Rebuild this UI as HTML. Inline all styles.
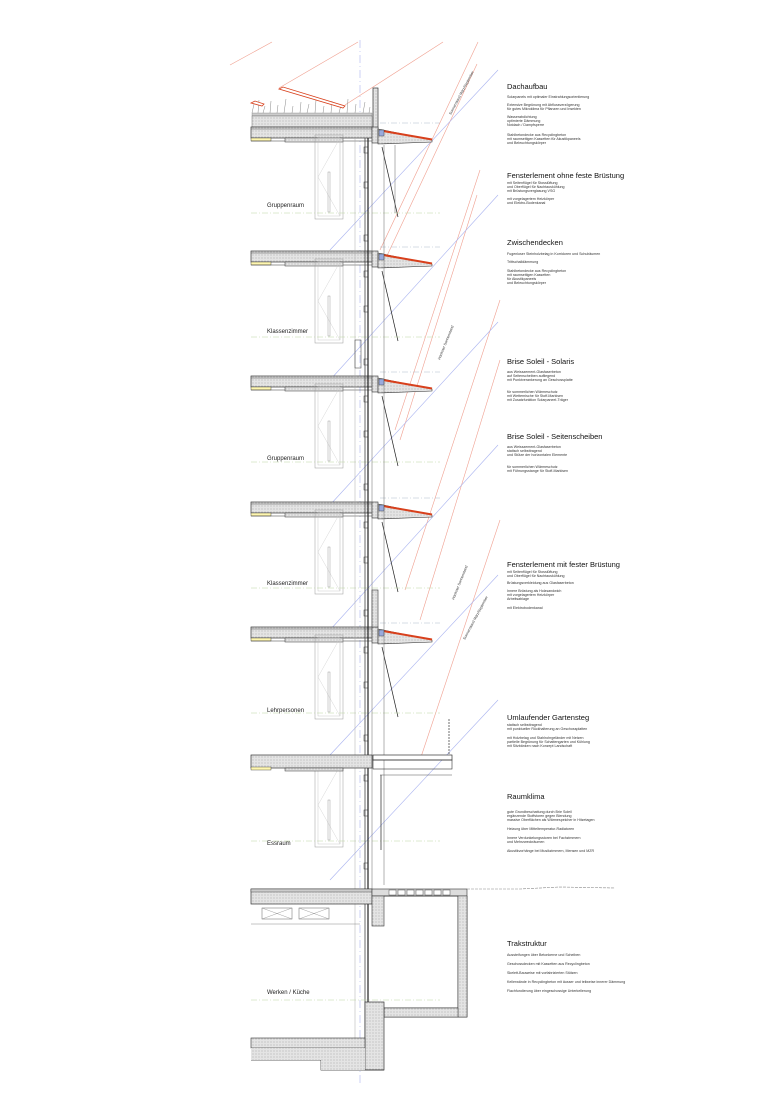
<!DOCTYPE html>
<html><head><meta charset="utf-8"><style>
html,body{margin:0;padding:0;background:#fff;}
svg{display:block;font-family:"Liberation Sans",sans-serif;}
.h{font-size:7.5px;fill:#111;}
.s{font-size:3.6px;fill:#333;}
.r{font-size:6px;fill:#222;}
</style></head><body>
<svg width="780" height="1103" viewBox="0 0 780 1103" xmlns="http://www.w3.org/2000/svg">
<defs>
<pattern id="ht" width="3" height="3" patternUnits="userSpaceOnUse"><rect width="3" height="3" fill="#e4e4e4"/><circle cx="1" cy="1" r="0.5" fill="#999"/></pattern>
<g id="floor">
 <rect x="251" y="0" width="121" height="11" fill="url(#ht)" stroke="#333" stroke-width="0.7"/>
 <line x1="251" y1="2" x2="372" y2="2" stroke="#555" stroke-width="0.5"/>
 <rect x="251" y="11" width="20" height="3" fill="#fff7b0" stroke="#333" stroke-width="0.4"/>
 <rect x="285" y="11" width="58" height="4" fill="url(#ht)" stroke="#333" stroke-width="0.5"/>
 <line x1="251" y1="14" x2="285" y2="14" stroke="#333" stroke-width="0.5"/>
 <line x1="343" y1="14" x2="372" y2="14" stroke="#333" stroke-width="0.5"/>
 <rect x="372" y="0" width="6" height="16" fill="url(#ht)" stroke="#333" stroke-width="0.6"/>
 <polygon points="378,2 432,13 432,15 378,17" fill="url(#ht)" stroke="#333" stroke-width="0.6"/>
 <line x1="383" y1="4" x2="432" y2="12.5" stroke="#d8401c" stroke-width="2"/>
 <rect x="379" y="3" width="5" height="6" fill="#9ad" stroke="#333" stroke-width="0.4"/>
 <line x1="382" y1="20" x2="398" y2="90" stroke="#222" stroke-width="0.7"/>
 <line x1="380" y1="-4" x2="440" y2="-4" stroke="#9ab" stroke-width="0.4" stroke-dasharray="6,2,1,2"/>
</g>
<g id="win">
 <rect x="315" y="8" width="28" height="84" fill="none" stroke="#999" stroke-width="0.5"/>
 <rect x="318" y="11" width="22" height="78" fill="none" stroke="#bbb" stroke-width="0.4"/>
 <polyline points="318,50 340,11 340,89 318,50" fill="none" stroke="#ccc" stroke-width="0.4"/>
 <rect x="328" y="45" width="2" height="40" fill="none" stroke="#888" stroke-width="0.4"/>
 <line x1="251" y1="86" x2="440" y2="86" stroke="#bdd6a0" stroke-width="0.5" stroke-dasharray="6,2,1,2"/>
 <rect x="364" y="20" width="4" height="6" fill="#fff" stroke="#333" stroke-width="0.5"/>
 <rect x="364" y="55" width="4" height="6" fill="#fff" stroke="#333" stroke-width="0.5"/>
 <rect x="364" y="108" width="4" height="6" fill="#fff" stroke="#333" stroke-width="0.5"/>
</g>
</defs>
<rect width="780" height="1103" fill="#fff"/>

<!-- sun lines -->
<g stroke="#f0a090" stroke-width="0.6" fill="none">
 <line x1="230" y1="65" x2="272" y2="42"/>
 <line x1="279" y1="88" x2="358" y2="42"/>
 <line x1="345" y1="105" x2="443" y2="42"/>
 <line x1="380" y1="250" x2="478" y2="42"/>
 <line x1="385" y1="260" x2="477" y2="64"/>
 <line x1="395" y1="430" x2="480" y2="170"/>
 <line x1="400" y1="440" x2="477" y2="195"/>
 <line x1="405" y1="590" x2="500" y2="300"/>
 <line x1="420" y1="620" x2="500" y2="360"/>
 <line x1="420" y1="760" x2="500" y2="520"/>
</g>
<g stroke="#aab4f0" stroke-width="0.6" fill="none">
 <line x1="330" y1="250" x2="498" y2="70"/>
 <line x1="330" y1="380" x2="498" y2="195"/>
 <line x1="330" y1="505" x2="498" y2="322"/>
 <line x1="330" y1="630" x2="498" y2="445"/>
 <line x1="330" y1="755" x2="498" y2="575"/>
 <line x1="330" y1="880" x2="498" y2="700"/>
 <line x1="360" y1="40" x2="360" y2="1085" stroke-dasharray="8,3,1,3"/>
</g>
<text class="s" transform="translate(451,115) rotate(-62)" font-size="5">Sonnenstand März/September</text>
<text class="s" transform="translate(440,360) rotate(-68)" font-size="5">Höchster Sonnenstand</text>
<text class="s" transform="translate(454,600) rotate(-68)" font-size="5">Höchster Sonnenstand</text>
<text class="s" transform="translate(465,640) rotate(-62)" font-size="5">Sonnenstand März/September</text>

<!-- roof -->
<rect x="252" y="113" width="120" height="3" fill="#ccc" stroke="#666" stroke-width="0.3"/>
<g stroke="#888" stroke-width="0.5">
<path d="M252 113 L254 104 M258 113 L259 100 M263 113 L265 106 M270 113 L271 101 M277 113 L278 105 M284 113 L286 99 M292 113 L293 106 M300 113 L301 102 M307 113 L309 104 M315 113 L316 100 M323 113 L324 106 M331 113 L332 101 M339 113 L341 105 M347 113 L348 99 M355 113 L356 104 M363 113 L365 102 M369 113 L370 107"/>
</g>
<rect x="252" y="116" width="120" height="11" fill="url(#ht)" stroke="#555" stroke-width="0.4"/>
<rect x="373" y="88" width="5" height="50" fill="url(#ht)" stroke="#333" stroke-width="0.7"/>
<polygon points="279,89 283,87 345,106 343,108" fill="#fff" stroke="#d8401c" stroke-width="0.8"/>
<polygon points="251,103 255,101 264,104 262,106" fill="#fff" stroke="#d8401c" stroke-width="0.8"/>

<use href="#floor" y="127"/>
<use href="#floor" y="251"/>
<use href="#floor" y="376"/>
<use href="#floor" y="502"/>
<use href="#floor" y="627"/>
<use href="#win" y="127"/>
<use href="#win" y="251"/>
<use href="#win" y="376"/>
<use href="#win" y="502"/>
<use href="#win" y="627"/>
<use href="#win" y="755"/>

<!-- facade verticals -->
<g stroke-width="0.8" fill="none">
 <line x1="365" y1="138" x2="365" y2="1040" stroke="#444"/>
 <line x1="368" y1="138" x2="368" y2="1040" stroke="#222" stroke-width="1.2"/>
 <line x1="372" y1="138" x2="372" y2="889" stroke="#666" stroke-width="0.5"/>
 <line x1="355" y1="138" x2="355" y2="1040" stroke="#aaa" stroke-width="0.5"/>
 <line x1="384" y1="145" x2="384" y2="885" stroke="#666" stroke-width="0.5"/>
 <line x1="395" y1="145" x2="395" y2="213" stroke="#666" stroke-width="0.5"/>
</g>
<rect x="372" y="590" width="6" height="37" fill="url(#ht)" stroke="#333" stroke-width="0.6"/>
<rect x="355" y="340" width="6" height="28" fill="none" stroke="#333" stroke-width="0.5"/>

<!-- walkway -->
<rect x="251" y="755" width="121" height="13" fill="url(#ht)" stroke="#333" stroke-width="0.7"/>
<rect x="251" y="767" width="20" height="3" fill="#fff7b0" stroke="#333" stroke-width="0.4"/>
<rect x="285" y="768" width="58" height="3" fill="url(#ht)" stroke="#333" stroke-width="0.5"/>
<rect x="373" y="755" width="79" height="5" fill="#fff" stroke="#333" stroke-width="0.7"/>
<rect x="373" y="760" width="79" height="9" fill="none" stroke="#333" stroke-width="0.6"/>
<line x1="380" y1="775" x2="452" y2="775" stroke="#555" stroke-width="0.5"/>
<line x1="449" y1="719" x2="449" y2="755" stroke="#333" stroke-width="0.7" stroke-dasharray="2,1"/>
<line x1="381" y1="775" x2="381" y2="850" stroke="#222" stroke-width="0.7"/>

<!-- ground -->
<rect x="251" y="889" width="121" height="15" fill="url(#ht)" stroke="#333" stroke-width="0.7"/>
<rect x="251" y="889" width="121" height="3" fill="#ccc" stroke="#333" stroke-width="0.4"/>
<rect x="372" y="889" width="95" height="7" fill="#ddd" stroke="#333" stroke-width="0.6"/>
<g fill="#fff" stroke="#333" stroke-width="0.4">
<rect x="389" y="890" width="7" height="5"/><rect x="398" y="890" width="7" height="5"/><rect x="407" y="890" width="7" height="5"/><rect x="416" y="890" width="7" height="5"/><rect x="425" y="890" width="7" height="5"/><rect x="434" y="890" width="7" height="5"/><rect x="443" y="890" width="7" height="5"/>
</g>
<path d="M467 889 L520 889 L560 887 L615 888" stroke="#888" stroke-width="0.6" fill="none" stroke-dasharray="3,1"/>
<path d="M384 896 L458 896 L458 1008 L384 1008 L384 1017 L467 1017 L467 896" fill="none" stroke="#333" stroke-width="0.7"/>
<rect x="458" y="896" width="9" height="121" fill="url(#ht)" stroke="#333" stroke-width="0.5"/>
<rect x="384" y="1008" width="74" height="9" fill="url(#ht)" stroke="#333" stroke-width="0.5"/>
<rect x="372" y="896" width="12" height="30" fill="url(#ht)" stroke="#333" stroke-width="0.6"/>
<rect x="365" y="1002" width="19" height="68" fill="url(#ht)" stroke="#333" stroke-width="0.7"/>
<rect x="251" y="1038" width="114" height="10" fill="url(#ht)" stroke="#333" stroke-width="0.6"/>
<path d="M251 1060 L321 1060 L321 1070 L384 1070" fill="none" stroke="#333" stroke-width="0.7"/>
<rect x="251" y="1048" width="114" height="12" fill="url(#ht)" stroke="none"/>
<rect x="321" y="1060" width="44" height="10" fill="url(#ht)"/>
<rect x="262" y="908" width="30" height="11" fill="none" stroke="#666" stroke-width="0.5"/>
<path d="M262 908 L292 919 M292 908 L262 919" stroke="#888" stroke-width="0.4"/>
<rect x="299" y="908" width="30" height="11" fill="none" stroke="#666" stroke-width="0.5"/>
<path d="M299 908 L329 919 M329 908 L299 919" stroke="#888" stroke-width="0.4"/>
<line x1="251" y1="924" x2="360" y2="924" stroke="#888" stroke-width="0.5"/>
<line x1="251" y1="1000" x2="440" y2="1000" stroke="#bdd6a0" stroke-width="0.5" stroke-dasharray="6,2,1,2"/>

<!-- room labels -->
<text class="r" x="267" y="207">Gruppenraum</text>
<text class="r" x="267" y="333">Klassenzimmer</text>
<text class="r" x="267" y="460">Gruppenraum</text>
<text class="r" x="267" y="585">Klassenzimmer</text>
<text class="r" x="267" y="712">Lehrpersonen</text>
<text class="r" x="267" y="845">Essraum</text>
<text class="r" x="267" y="994">Werken / Küche</text>

<!-- right text -->
<g>
<text class="h" x="507" y="89">Dachaufbau</text>
<text class="s" x="507" y="98">Solarpanels mit optimaler Einstrahlungsorientierung</text>
<text class="s" x="507" y="106">Extensive Begrünung mit Abflussverzögerung</text>
<text class="s" x="507" y="110">für gutes Mikroklima für Pflanzen und Insekten</text>
<text class="s" x="507" y="118">Wasserabdichtung</text>
<text class="s" x="507" y="122">optimierte Dämmung</text>
<text class="s" x="507" y="126">Notdach / Dampfsperre</text>
<text class="s" x="507" y="136">Stahlbetondecke aus Recyclingbeton</text>
<text class="s" x="507" y="140">mit raumseitigen Kassetten für Akustikpaneels</text>
<text class="s" x="507" y="144">und Beleuchtungskörper</text>

<text class="h" x="507" y="178">Fensterlement ohne feste Brüstung</text>
<text class="s" x="507" y="184">mit Seitenflügel für Stosslüftung</text>
<text class="s" x="507" y="188">und Oberflügel für Nachtauskühlung</text>
<text class="s" x="507" y="192">mit Brüstungsverglasung VSG</text>
<text class="s" x="507" y="200">mit vorgelagertem Heizkörper</text>
<text class="s" x="507" y="204">und Elektro-Bodenkanal</text>

<text class="h" x="507" y="245">Zwischendecken</text>
<text class="s" x="507" y="255">Fugenloser Steinholzbelag in Korridoren und Schulräumen</text>
<text class="s" x="507" y="263">Trittschalldämmung</text>
<text class="s" x="507" y="272">Stahlbetondecke aus Recyclingbeton</text>
<text class="s" x="507" y="276">mit raumseitigen Kassetten</text>
<text class="s" x="507" y="280">für Akustikpaneels</text>
<text class="s" x="507" y="284">und Beleuchtungskörper</text>

<text class="h" x="507" y="364">Brise Soleil - Solaris</text>
<text class="s" x="507" y="373">aus Weisszement-Glasfaserbeton</text>
<text class="s" x="507" y="377">auf Seitenscheiben aufliegend</text>
<text class="s" x="507" y="381">mit Punktverankerung an Geschossplatte</text>
<text class="s" x="507" y="393">für sommerlichen Wärmeschutz</text>
<text class="s" x="507" y="397">mit Wetternische für Stoff-Markisen</text>
<text class="s" x="507" y="401">mit Zusatzfunktion Solarpaneel-Träger</text>

<text class="h" x="507" y="439">Brise Soleil - Seitenscheiben</text>
<text class="s" x="507" y="448">aus Weisszement-Glasfaserbeton</text>
<text class="s" x="507" y="452">statisch selbsttragend</text>
<text class="s" x="507" y="456">und Stütze der horizontalen Elemente</text>
<text class="s" x="507" y="468">für sommerlichen Wärmeschutz</text>
<text class="s" x="507" y="472">mit Führungsstange für Stoff-Markisen</text>

<text class="h" x="507" y="567">Fensterlement mit fester Brüstung</text>
<text class="s" x="507" y="573">mit Seitenflügel für Stosslüftung</text>
<text class="s" x="507" y="577">und Oberflügel für Nachtauskühlung</text>
<text class="s" x="507" y="584">Brüstungsverkleidung aus Glasfaserbeton</text>
<text class="s" x="507" y="592">Innere Brüstung als Holzsandwich</text>
<text class="s" x="507" y="596">mit vorgelagertem Heizkörper</text>
<text class="s" x="507" y="600">Arbeitsablage</text>
<text class="s" x="507" y="609">mit Elektrobodenkanal</text>

<text class="h" x="507" y="720">Umlaufender Gartensteg</text>
<text class="s" x="507" y="726">statisch selbsttragend</text>
<text class="s" x="507" y="730">mit punktueller Rückhalterung an Geschossplatten</text>
<text class="s" x="507" y="739">mit Holzbelag und Stahlrohrgeländer mit Netzen</text>
<text class="s" x="507" y="743">partielle Begrünung für Schattengarten und Kühlung</text>
<text class="s" x="507" y="747">mit Sitzbänken nach Konzept Landschaft</text>

<text class="h" x="507" y="799">Raumklima</text>
<text class="s" x="507" y="813">gute Grundbeschattung durch Brie Soleil</text>
<text class="s" x="507" y="817">ergänzende Stoffstoren gegen Blendung</text>
<text class="s" x="507" y="821">massive Oberflächen als Wärmespeicher in Hitzetagen</text>
<text class="s" x="507" y="830">Heizung über Mitteltemperatur-Radiatoren</text>
<text class="s" x="507" y="839">Innere Verdunkelungsstoren bei Fachzimmern</text>
<text class="s" x="507" y="843">und Mehrzweckräumen</text>
<text class="s" x="507" y="852">Akustikvorhänge bei Musikzimmern, Mensen und MZR</text>

<text class="h" x="507" y="946">Trakstruktur</text>
<text class="s" x="507" y="956">Aussteifungen über Betonkerne und Scheiben</text>
<text class="s" x="507" y="965">Geschossdecken mit Kassetten aus Recyclingbeton</text>
<text class="s" x="507" y="974">Skelett-Bauweise mit vorfabrizierten Stützen</text>
<text class="s" x="507" y="983">Kellerwände in Recyclingbeton mit äusser und teilweise innerer Dämmung</text>
<text class="s" x="507" y="992">Flachfundierung über eingeschossige Unterkellerung</text>
</g>
</svg>
</body></html>
